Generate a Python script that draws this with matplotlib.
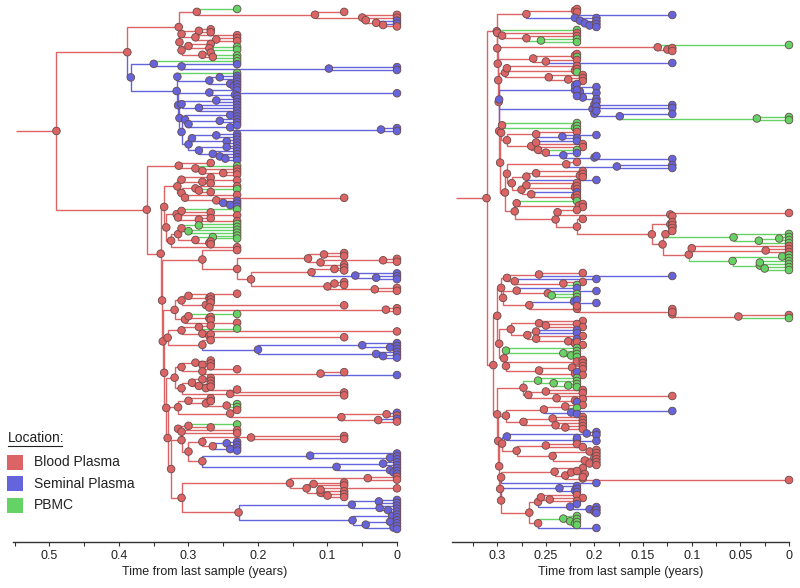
import matplotlib
matplotlib.use("Agg")
import matplotlib.pyplot as plt
from matplotlib.collections import LineCollection
from matplotlib.patches import Rectangle
from matplotlib.lines import Line2D

plt.rcParams['font.family'] = ['Liberation Sans', 'DejaVu Sans']

# ---------------- data ----------------
# Trees in Newick-like notation: each node label = location letter + time (years before last sample)
# R = Blood Plasma, B = Seminal Plasma, G = PBMC
LOCATIONS = ['Blood Plasma', 'Seminal Plasma', 'PBMC']
LOC_CODES = ['R', 'B', 'G']
LOC_COLORS = ['#DD6464', '#6464DC', '#64D264']

# ---- left tree clades ----
LA1 = "(G.23,(R.076,(R0,(R0,(B0,(B0,R0)R.02)R.03)R.045)R.05)R.118)R.288"
LA2 = "(((R.268,R.268)R.285,(R.23,(R.23,R.23)R.26)R.29)R.31,((R.268,(G.23,G.23)R.27)R.30,(R.268,(G.23,G.23)R.265)R.28)R.31)R.313"
LB1 = "(G.23,(B.23,(B0,B0)B.098)B.31)B.35"
LB2 = "(G.23,((B.23,B.23)B.255,(B.23,(B.23,B.23)B.235)B.24)B.27)B.316"
LB3 = "(B.23,(B0,B.23)B.233)B.27"
LB4 = "((B.23,B.23)B.26,(B.23,B.23,B.23)B.285)B.31"
LB5 = "((B.23,B.23)B.24,((B.23,B.23)B.255,(B.23,(B0,B0)B.023)B.24)B.30)B.305"
LB6 = "(((B.23,B.23)B.26,(B.23,B.23)B.245)B.295,((B.23,B.23)B.245,(B.23,(B.23,(B.23,B.23)B.247)B.255)B.265)B.285)B.30"
LC1 = "(R.268,(G.23,(R.23,(R.23,R.23)R.25)R.28)R.29)R.314"
LC2 = "((R.268,(R.23,R.268)R.28)R.31,((R.23,(G.23,R.268)R.285)R.29,(R.23,(R.076,(B.23,(B.23,B.23)B.24)B.25)R.26)R.305)R.31)R.316"
LC3 = "(((G.23,R.268)R.31,(R.23,(R.268,R.23)R.285)R.315)R.317,((((G.23,G.23)G.285,(G.23,G.23)G.30)R.31,((G.23,G.23)G.265,(R.268,R.268)R.27)R.29)R.315,R.23)R.325)R.332"
LX = "((R.076,R.076)R.105,((R0,R0)R.02,R.076)R.11)R.128"
LY = "(((R.076,R.076)R.09,(B0,(B0,B0)B.03)B.06)R.123,((R.076,R.076)R.09,(R0,R0)R.032)R.10)R.21"
LE1 = "(((R.23,(R.268,R.268)R.27)R.30,(R.268,(R.076,(R0,R0)R.016)R.27)R.275)R.31,((G.23,(R.268,R.268)R.27)R.30,R.23)R.305)R.32"
LE2a = "((R.268,G.23)R.285,(R0,(R.268,R.076)R.27)R.28)R.31"
LE2b = "(R.268,((B0,(B0,B0)B.01)B.05,(B0,(B0,B0)B.02)B.03)B.2)R.28"
LE3a = "((R.268,(R.268,R.268)R.28)R.29,(R.23,(R.076,B0)R.11)R.28)R.31"
LE3b = "(((R.268,R.268)R.28,(R.268,(R.268,R.23)R.275)R.285)R.295,(R.076,R.076)R.24)R.31"
LE4a = "(R.268,(R.268,(G.23,G.23)R.245)R.275)R.30"
LE4b = "(R.23,((B0,R0)R.015,(B0,R0)R.027)R.08)R.24"
LE5a = "((G.23,R.268)R.30,(R.23,R.23)R.31)R.315"
LE5b = "((R.076,R.076)R.21,((B.23,B.23)B.245,(B.23,B.23)B.24)R.265)R.28"
LE5c = "((B0,(B0,B0)B.01)B.125,((B0,B0)B.02,(B0,(B0,B0)B.005)B.01)B.087)R.28"
LE6a = "((R0,R0)R.042,((R.076,R.076)R.12,((R0,R.076)R.11,(R.076,R.076)R.10)R.11)R.13)R.154"
LE6b = "(((B0,B0)B.026,(B0,(B0,B0)B.013)B.025)B.065,((B0,B0)B.007,((B0,B0)B.01,(B0,B0)B.005)B.045)B.064)R.228"
LEFT_STEM = 0.548

# ---- right tree clades ----
RU1 = "((R.218,R.218)R.22,(B.12,(B.198,(B.198,(B.198,B.198)B.205)B.21)B.215)B.22)R.27"
RU2 = "(G.218,(R.218,(R.218,(G.218,G.218)G.255)R.27)R.295)R.30"
RU3 = "(G0,(R.12,R.12)R.125)R.135"
RU4 = "((R.218,G.218)R.22,(R.218,B.12)R.25)R.263"
RU5 = "((R.218,(R.218,G.218)R.22)R.29,(R.212,(R.212,R.212)R.227)R.247)R.292"
RU6 = "(((B.218,B.198)B.22,((B.218,B.198)B.215,(B.218,B.198)B.212)B.215)B.22,((B.198,(B.12,B.12)B.198)B.2,(B.198,(B.12,(G0,G0)G.033)B.174)B.2)B.202)B.298"
RU7 = "((G.218,(G.218,G.218)G.22)R.295,((R.218,(B.198,B.218)B.233)R.26,((B.218,R.212)R.26,(R.212,(G.218,(B.218,(B.198,B.12)B.2)B.232)R.25)R.258)R.265)R.29)R.296"
RU8 = "((R.218,(B.12,B.12)B.177)R.229,(((R.212,(R.212,R.212)R.215)R.26,B.198)R.27,((R.218,(R.218,R.218)R.22)R.27,(B.218,(R.218,R.218)R.22)R.265)R.275)R.285)R.29"
RR = "((R.12,(R.12,R.12)R.12)R.122,((R.12,(G0,((G0,G0)G.01,G0)G.031)G.057)R.127,((R0,(R0,R0)R.024)R.1,((G0,G0)G.007,((G0,G0)G.03,(G0,G0)G.025)G.03)G.058)R.103)R.13)R.141"
RV1 = "(((R.212,B.12)R.257,(B.198,(R.212,G.218)R.232)R.282)R.29,((B.218,(B.198,(G.218,G.218)G.244)R.248)R.28,((B.218,B.198)B.221,(R.218,(R.12,(R.12,(R0,G0)R.052)R.12)R.12)R.218)R.267)R.294)R.296"
RV2 = "((R.212,(R.218,R.212)R.25)R.257,((B.218,B.218)R.26,(R.212,(B.218,(R.218,R.212)R.22)R.227)R.26)R.269)R.286"
RV3 = "((G.218,(G.218,(G.218,G.218)G.224)G.232)G.291,((R.212,R.212)R.218,((R.212,R.212)R.223,(B.218,R.212)R.22)R.257)R.291)R.293"
RV4 = "((G.218,(G.218,(G.218,G.218)G.227)G.242)G.258,((R.212,R.212)R.25,(R.12,(R.212,B.218)R.22)R.239)R.268)R.273"
RV5 = "(((R.212,G.218)R.23,(B.12,B.218)B.224)R.252,((R.212,R.212)R.243,(R.212,(R.212,R.212)R.23)R.24)R.273)R.291"
RV6 = "(((B.198,B.198)B.208,(B.218,B.198)B.218)B.29,((R.218,R.212)R.25,((R.198,R.198)R.205,((R.198,R.198)R.2,(R.198,R.198)R.205)R.21)R.243)R.28)R.295"
RV7 = "((R.212,((R.218,R.21)R.224,(R.212,R0)R.212)R.23)R.241,B.198)R.296"
RV8 = "((B.218,(B.218,B.218)B.22)B.236,(((R.218,(R.212,R.218)R.246)R.255,(B.218,(B.198,(B.198,B.198)B.2)B.205)B.225)R.258,((G.218,(G.218,(G.218,G.218)G.22)G.225)G.232,B.198)R.258)R.267)R.296"
RIGHT_STEM = 0.342

LEFT_TICKS = [0.5, 0.4, 0.3, 0.2, 0.1, 0.0]
LEFT_TICK_LABELS = ['0.5', '0.4', '0.3', '0.2', '0.1', '0']
LEFT_MINOR = [0.55, 0.45, 0.35, 0.25, 0.15, 0.05]
RIGHT_TICKS = [0.3, 0.25, 0.2, 0.15, 0.1, 0.05, 0.0]
RIGHT_TICK_LABELS = ['0.3', '0.25', '0.2', '0.15', '0.1', '0.05', '0']
RIGHT_MINOR = [0.325, 0.275, 0.225, 0.175, 0.125, 0.075, 0.025]
XLABEL = 'Time from last sample (years)'
LEGEND_TITLE = 'Location:'

# ---- compose trees ----
LB = f"({LB1},({LB2},({LB3},({LB4},({LB5},{LB6})B.31)B.313)B.315)B.317)B.383"
L_UPPER = f"(({LA1},{LA2})R.314,{LB})R.388"
LC = f"({LC2},{LC3})R.335"
LDUP = f"(R.23,({LX},{LY})R.23)R.28"
LE2 = f"({LE2a},{LE2b})R.33"
LE3 = f"({LE3a},{LE3b})R.32"
LE4 = f"({LE4a},{LE4b})R.315"
LE5 = f"({LE5a},({LE5b},{LE5c})R.30)R.31"
LE6 = f"({LE6a},{LE6b})R.31"
LD = f"({LDUP},({LE1},({LE2},({LE3},({LE4},({LE5},{LE6})R.325)R.33)R.332)R.335)R.337)R.338"
L_LOWER = f"({LC1},({LC},{LD})R.34)R.36"
LEFT_TREE = f"({L_UPPER},{L_LOWER})R.49"

RU9 = f"((G.218,(R.212,R.212)R.216)R.28,((R.218,(R0,R.12)R.122)R.238,(R.212,{RR})R.218)R.24)R.282"
RU = f"({RU1},({RU2},({RU3},({RU4},({RU5},({RU6},({RU7},({RU8},{RU9})R.292)R.297)R.298)R.2985)R.299)R.2995)R.30)R.3005"
RV_UP = f"({RV1},({RV2},{RV3})R.298)R.30"
RV_LOW = f"({RV4},({RV5},({RV6},({RV7},{RV8})R.297)R.298)R.299)R.30"
RV = f"({RV_UP},{RV_LOW})R.304"
RIGHT_TREE = f"({RU},{RV})R.311"


# ---------------- helpers ----------------
def parse(s):
    i = [0]

    def node():
        kids = []
        if s[i[0]] == '(':
            i[0] += 1
            kids.append(node())
            while s[i[0]] == ',':
                i[0] += 1
                kids.append(node())
            assert s[i[0]] == ')', s[max(0, i[0] - 20):i[0] + 20]
            i[0] += 1
        j = i[0]
        while i[0] < len(s) and s[i[0]] not in ',()':
            i[0] += 1
        lab = s[j:i[0]]
        return {'loc': lab[0], 't': float(lab[1:]), 'kids': kids}

    root = node()
    assert i[0] == len(s)
    return root


def layout(n, counter):
    if not n['kids']:
        n['y'] = counter[0]
        counter[0] += 1
    else:
        for k in n['kids']:
            layout(k, counter)
        n['y'] = (n['kids'][0]['y'] + n['kids'][-1]['y']) / 2.0


COL = dict(zip(LOC_CODES, LOC_COLORS))


def collect(n, segs, cols, pts):
    pts.append((n['t'], n['y'], COL[n['loc']]))
    for k in n['kids']:
        segs.append([(n['t'], n['y']), (n['t'], k['y']), (k['t'], k['y'])])
        cols.append(COL[k['loc']])
        collect(k, segs, cols, pts)


fig = plt.figure(figsize=(8.0, 5.88), dpi=100)
W, H = 800.0, 588.0


def panel(tree_str, stem, px_left, px_right, xmax, ticks, ticklabels, minor, tip_top, tip_bot):
    root = parse(tree_str)
    counter = [0]
    layout(root, counter)
    N = counter[0]
    ptop, pbot = 4.0, 542.0
    ax = fig.add_axes([px_left / W, 1 - pbot / H, (px_right - px_left) / W, (pbot - ptop) / H])
    ppt = (tip_bot - tip_top) / (N - 1)
    ax.set_ylim((N - 1) + (pbot - tip_bot) / ppt, -(tip_top - ptop) / ppt)
    ax.set_xlim(xmax, 0)
    segs, cols, pts = [], [], []
    collect(root, segs, cols, pts)
    segs.append([(stem, root['y']), (root['t'], root['y'])])
    cols.append(COL[root['loc']])
    lc = LineCollection(segs, colors=cols, linewidths=1.0, zorder=2, capstyle='butt', joinstyle='miter')
    ax.add_collection(lc)
    xs = [p[0] for p in pts]
    ys = [p[1] for p in pts]
    cs = [p[2] for p in pts]
    ax.scatter(xs, ys, s=30, c=cs, edgecolors='#6a4a4a', linewidths=0.6, zorder=3, clip_on=False)
    for sp in ['top', 'left', 'right']:
        ax.spines[sp].set_visible(False)
    ax.spines['bottom'].set_color('#333333')
    ax.spines['bottom'].set_linewidth(1.0)
    ax.set_yticks([])
    ax.set_xticks(ticks)
    ax.set_xticklabels(ticklabels)
    ax.set_xticks(minor, minor=True)
    ax.tick_params(axis='x', which='both', direction='out', length=3, width=0.8, color='#333333',
                   labelsize=9, labelcolor='#222222', pad=3)
    ax.set_xlabel(XLABEL, fontsize=9, color='#222222', labelpad=3)
    ax.patch.set_alpha(0)
    return ax


panel(LEFT_TREE, LEFT_STEM, 13, 397, 0.5525, LEFT_TICKS, LEFT_TICK_LABELS, LEFT_MINOR, 9, 529)
panel(RIGHT_TREE, RIGHT_STEM, 452, 789, 0.3465, RIGHT_TICKS, RIGHT_TICK_LABELS, RIGHT_MINOR, 9, 528)

# ---------------- legend ----------------
fig.text(8 / W, 1 - 438 / H, LEGEND_TITLE, fontsize=10, va='center', ha='left', color='#222222')
fig.add_artist(Line2D([8 / W, 62 / W], [1 - 446 / H, 1 - 446 / H], color='#222222', lw=0.8))
for i, (name, c) in enumerate(zip(LOCATIONS, LOC_COLORS)):
    yc = 462 + i * 21.5
    fig.add_artist(Rectangle((7 / W, 1 - (yc + 7.5) / H), 16 / W, 15 / H, facecolor=c, edgecolor='none'))
    fig.text(34 / W, 1 - yc / H, name, fontsize=10, va='center', ha='left', color='#222222')

fig.savefig('out.png', dpi=100)
